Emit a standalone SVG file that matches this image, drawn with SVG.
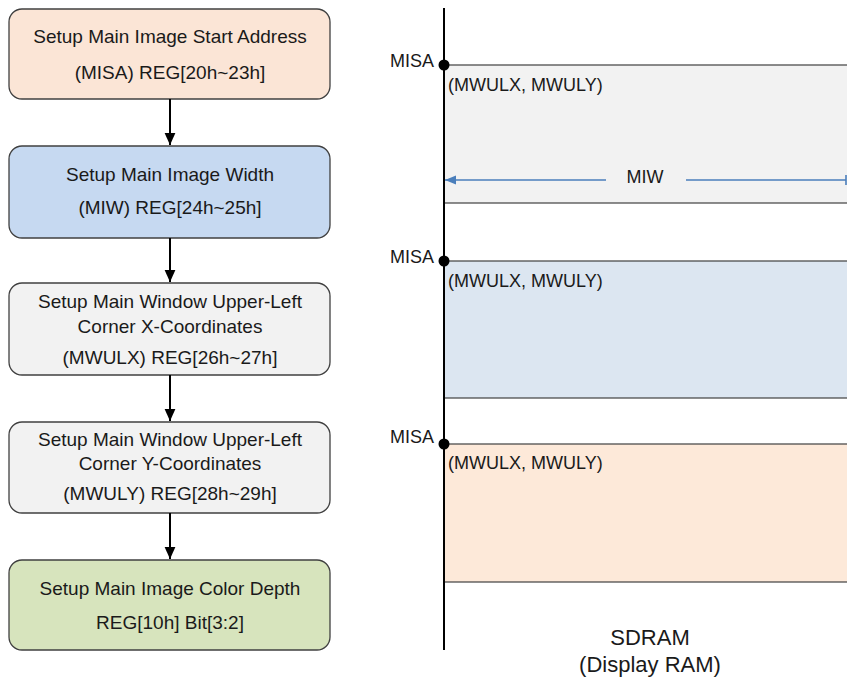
<svg xmlns="http://www.w3.org/2000/svg" width="847" height="680" viewBox="0 0 847 680">
<defs>
<style>
text{font-family:"Liberation Sans",Arial,sans-serif;fill:#1a1a1a}
.bt{font-size:19px;text-anchor:middle}
.box{stroke:#404040;stroke-width:1.3}
.lbl{font-size:18px}
.mem{stroke:#404040;stroke-width:1.2}
.conn{stroke:#000;stroke-width:2;fill:none}
</style>
<marker id="ah" viewBox="0 0 10 10" refX="10" refY="5" markerWidth="12" markerHeight="12" orient="auto" markerUnits="userSpaceOnUse">
<path d="M0,0.5L10,5L0,9.5z" fill="#000"/>
</marker>
<marker id="bh" viewBox="0 0 10 10" refX="10" refY="5" markerWidth="11" markerHeight="11" orient="auto" markerUnits="userSpaceOnUse">
<path d="M0,1L10,5L0,9z" fill="#4a7ebb"/>
</marker>
</defs>
<rect width="847" height="680" fill="#fff"/>

<g id="n1"><rect class="box" x="9" y="9" width="321" height="90" rx="13" fill="#fbe5d6"/>
<text class="bt" x="170" y="43">Setup Main Image Start Address</text>
<text class="bt" x="170" y="79">(MISA) REG[20h~23h]</text></g>

<g id="n2"><rect class="box" x="9" y="146" width="321" height="92" rx="13" fill="#c6d9f1"/>
<text class="bt" x="170" y="181">Setup Main Image Width</text>
<text class="bt" x="170" y="214">(MIW) REG[24h~25h]</text></g>

<g id="n3"><rect class="box" x="9" y="283" width="321" height="92" rx="13" fill="#f2f2f2"/>
<text class="bt" x="170" y="308">Setup Main Window Upper-Left</text>
<text class="bt" x="170" y="333">Corner X-Coordinates</text>
<text class="bt" x="170" y="364">(MWULX) REG[26h~27h]</text></g>

<g id="n4"><rect class="box" x="9" y="422" width="321" height="91" rx="13" fill="#f2f2f2"/>
<text class="bt" x="170" y="446">Setup Main Window Upper-Left</text>
<text class="bt" x="170" y="470">Corner Y-Coordinates</text>
<text class="bt" x="170" y="500">(MWULY) REG[28h~29h]</text></g>

<g id="n5"><rect class="box" x="9" y="560" width="321" height="90" rx="13" fill="#d7e4bd"/>
<text class="bt" x="170" y="595">Setup Main Image Color Depth</text>
<text class="bt" x="170" y="629">REG[10h] Bit[3:2]</text></g>

<g id="connectors">
<line class="conn" x1="170" y1="99" x2="170" y2="145" marker-end="url(#ah)"/>
<line class="conn" x1="170" y1="238" x2="170" y2="282" marker-end="url(#ah)"/>
<line class="conn" x1="170" y1="375" x2="170" y2="421" marker-end="url(#ah)"/>
<line class="conn" x1="170" y1="513" x2="170" y2="559" marker-end="url(#ah)"/>
</g>

<g id="memory">
<rect class="mem" x="444" y="65" width="410" height="138" fill="#f2f2f2"/>
<rect class="mem" x="444" y="261" width="410" height="137" fill="#dce6f1"/>
<rect class="mem" x="444" y="444" width="410" height="138" fill="#fde9d9"/>
<line x1="444" y1="8" x2="444" y2="650" stroke="#000" stroke-width="2"/>
<circle cx="444" cy="65" r="5.5" fill="#000"/>
<circle cx="444" cy="261" r="5.5" fill="#000"/>
<circle cx="444" cy="444" r="5.5" fill="#000"/>
<text class="lbl" x="434" y="67" text-anchor="end">MISA</text>
<text class="lbl" x="434" y="263" text-anchor="end">MISA</text>
<text class="lbl" x="434" y="443" text-anchor="end">MISA</text>
<text class="lbl" x="448" y="91">(MWULX, MWULY)</text>
<text class="lbl" x="448" y="287">(MWULX, MWULY)</text>
<text class="lbl" x="448" y="469">(MWULX, MWULY)</text>
<line x1="606" y1="180" x2="445" y2="180" stroke="#4a7ebb" stroke-width="1.6" marker-end="url(#bh)"/>
<line x1="686" y1="180" x2="846" y2="180" stroke="#4a7ebb" stroke-width="1.6"/>
<line x1="846" y1="175" x2="846" y2="185" stroke="#4a7ebb" stroke-width="1.6"/>
<text class="lbl" x="645" y="183" text-anchor="middle">MIW</text>
<text x="650" y="645" font-size="22" text-anchor="middle">SDRAM</text>
<text x="650" y="672" font-size="22" text-anchor="middle">(Display RAM)</text>
</g>
</svg>
